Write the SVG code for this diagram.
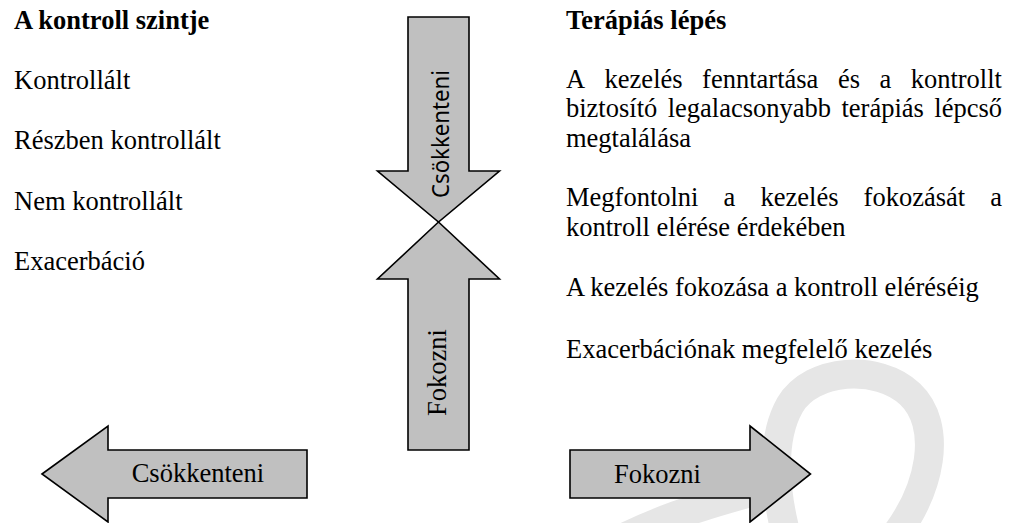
<svg xmlns="http://www.w3.org/2000/svg" width="1014" height="523" viewBox="0 0 1014 523">
  <style>
    .t { font-family: "Liberation Serif", "Times New Roman", serif; font-size: 26.5px; fill: #000; }
    .b { font-weight: bold; }
    .s { font-family: "Noto Sans", "Open Sans", "DejaVu Sans", sans-serif; font-size: 24px; fill: #000; }
    .arrow { fill: #c0c0c0; stroke: #000; stroke-width: 1.6; stroke-linejoin: miter; }
    .wm { fill: none; stroke: #e6e6e6; stroke-width: 29; stroke-linecap: butt; }
  </style>
  <rect width="1014" height="523" fill="#fff"/>

  <g id="watermark">
    <path class="wm" d="M 790 548 C 774 495, 770 440, 790 405 C 812 368, 878 364, 910 394 C 942 424, 935 490, 885 548"/>
    <path class="wm" d="M 600 550 C 650 522, 700 506, 760 490"/>
  </g>

  <g id="left-column">
    <text class="t b" x="14" y="29">A kontroll szintje</text>
    <text class="t" x="14" y="88.5">Kontrollált</text>
    <text class="t" x="14" y="149">Részben kontrollált</text>
    <text class="t" x="14" y="209.5">Nem kontrollált</text>
    <text class="t" x="14" y="270">Exacerbáció</text>
  </g>

  <g id="right-column">
    <text class="t b" x="566" y="29">Terápiás lépés</text>
    <text class="t" y="87.5"><tspan x="566">A</tspan><tspan x="604.6">kezelés</tspan><tspan x="702.1">fenntartása</tspan><tspan x="837.9">és</tspan><tspan x="879.5">a</tspan><tspan x="910.7">kontrollt</tspan></text>
    <text class="t" y="117"><tspan x="566">biztosító</tspan><tspan x="667.7">legalacsonyabb</tspan><tspan x="841.5">terápiás</tspan><tspan x="934.3">lépcső</tspan></text>
    <text class="t" x="566" y="146.5">megtalálása</text>
    <text class="t" y="206"><tspan x="566">Megfontolni</tspan><tspan x="723.6">a</tspan><tspan x="760.5">kezelés</tspan><tspan x="863.6">fokozását</tspan><tspan x="990.2">a</tspan></text>
    <text class="t" x="566" y="235.5">kontroll elérése érdekében</text>
    <text class="t" x="566" y="296">A kezelés fokozása a kontroll eléréséig</text>
    <text class="t" x="566" y="358">Exacerbációnak megfelelő kezelés</text>
  </g>

  <g id="arrow-down-csokkenteni">
    <polygon class="arrow" points="408,17 469,17 469,171 499.5,171 438.5,222 377.5,171 408,171"/>
    <text class="s" transform="translate(449,134) rotate(-90)" text-anchor="middle" textLength="128" lengthAdjust="spacingAndGlyphs">Csökkenteni</text>
  </g>

  <g id="arrow-up-fokozni">
    <polygon class="arrow" points="438.5,222 499.5,279 469,279 469,450 408,450 408,279 377.5,279"/>
    <text class="t" transform="translate(446,372.5) rotate(-90)" text-anchor="middle">Fokozni</text>
  </g>

  <g id="arrow-left-csokkenteni">
    <polygon class="arrow" points="42,474 108,426 108,450 307,450 307,498 108,498 108,522"/>
    <text class="t" x="131.7" y="482">Csökkenteni</text>
  </g>

  <g id="arrow-right-fokozni">
    <polygon class="arrow" points="570,450 750,450 750,426 810.5,474 750,522 750,498 570,498"/>
    <text class="t" x="614" y="483">Fokozni</text>
  </g>
</svg>
